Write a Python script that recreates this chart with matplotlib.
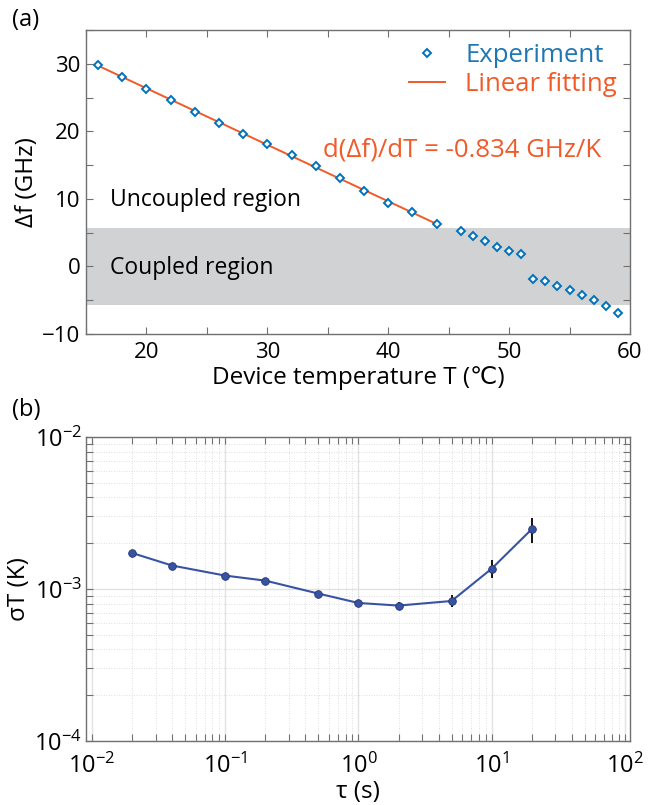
import numpy as np
import matplotlib
matplotlib.use("Agg")
import matplotlib.pyplot as plt
from matplotlib.ticker import MultipleLocator, LogLocator, NullFormatter

plt.rcParams['font.family'] = ['Open Sans', 'DejaVu Sans']
plt.rcParams['mathtext.default'] = 'regular'

# ---- Panel (a) data ----
temp_fit = [16, 18, 20, 22, 24, 26, 28, 30, 32, 34, 36, 38, 40, 42, 44]
df_fit = [29.82, 28.09, 26.27, 24.60, 22.92, 21.29, 19.62, 18.09, 16.51,
          14.88, 13.11, 11.18, 9.45, 8.03, 6.26]
temp_rest = [46, 47, 48, 49, 50, 51, 52, 53, 54, 55, 56, 57, 58, 59]
df_rest = [5.31, 4.48, 3.79, 2.86, 2.31, 1.86, -1.83, -2.09, -2.83, -3.46,
           -4.25, -5.04, -5.87, -6.82]
band_lo, band_hi = -5.7, 5.7

# ---- Panel (b) data ----
tau = [0.02, 0.04, 0.1, 0.2, 0.5, 1, 2, 5, 10, 20]
sigma_T = [1.725e-3, 1.426e-3, 1.225e-3, 1.135e-3, 0.933e-3, 0.809e-3,
           0.778e-3, 0.834e-3, 1.362e-3, 2.48e-3]
sigma_err = [0.02e-3, 0.02e-3, 0.02e-3, 0.025e-3, 0.025e-3, 0.03e-3,
             0.04e-3, 0.078e-3, 0.18e-3, 0.47e-3]

c_exp = '#0072BD'
c_fit = '#F15A29'
c_b = '#3953A4'
spine_c = '#707070'

fig = plt.figure(figsize=(6.62, 8.05), dpi=100)
W, H = 662, 805
def rect(l, t, r, b):
    return [l / W, 1 - b / H, (r - l) / W, (b - t) / H]

TICK = 16
LAB = 17.5

# ---------------- (a) ----------------
ax = fig.add_axes(rect(86, 30, 630, 334))
ax.axhspan(band_lo, band_hi, color='#D1D2D4', lw=0, zorder=0)
T_all = np.array(temp_fit + temp_rest)
D_all = np.array(df_fit + df_rest)
ax.plot(T_all, D_all, linestyle='none', marker='D', markersize=4.5,
        markerfacecolor='white', markeredgecolor=c_exp, markeredgewidth=1.4,
        label='Experiment', zorder=3)
p = np.polyfit(temp_fit, df_fit, 1)
xf = np.array([temp_fit[0], temp_fit[-1]])
ax.plot(xf, np.polyval(p, xf), color=c_fit, lw=1.4, label='Linear fitting', zorder=2)
ax.set_xlim(15, 60)
ax.set_ylim(-10, 35)
ax.xaxis.set_major_locator(MultipleLocator(10))
ax.xaxis.set_minor_locator(MultipleLocator(5))
ax.yaxis.set_major_locator(MultipleLocator(10))
ax.yaxis.set_minor_locator(MultipleLocator(5))
ax.tick_params(which='both', direction='in', top=True, right=True,
               length=5, width=0.8, color=spine_c, labelsize=TICK, pad=4)
ax.tick_params(axis='x', pad=6)
for s in ax.spines.values():
    s.set_color(spine_c)
    s.set_linewidth(1.0)
ax.set_xlabel('Device temperature T (℃)', fontsize=LAB, labelpad=2)
ax.set_ylabel('Δf (GHz)', fontsize=LAB, labelpad=2)
leg = ax.legend(loc='upper right', frameon=False, fontsize=18.5, numpoints=1,
                handlelength=1.4, handletextpad=0.8, labelspacing=0.15,
                borderaxespad=0.1, labelcolor='linecolor')
ax.text(34.6, 17.25, 'd(Δf)/dT = -0.834 GHz/K', color=c_fit, fontsize=18.5,
        ha='left', va='center')
ax.text(17, 9.85, 'Uncoupled region', fontsize=16.5, ha='left', va='center')
ax.text(17, -0.2, 'Coupled region', fontsize=16.5, ha='left', va='center')
fig.text(12 / W, 1 - 20 / H, '(a)', fontsize=17, ha='left', va='center')

# ---------------- (b) ----------------
bx = fig.add_axes(rect(86, 437, 630, 741))
bx.set_xscale('log')
bx.set_yscale('log')
bx.errorbar(tau, sigma_T, yerr=sigma_err, color=c_b, lw=1.5, marker='o',
            markersize=5.5, markerfacecolor=c_b, markeredgecolor='#23336e',
            markeredgewidth=0.6, ecolor='black', elinewidth=1.3, capsize=0,
            zorder=3)
bx.set_xlim(10 ** -2.045, 10 ** 2.0375)
bx.set_ylim(1e-4, 1e-2)
bx.xaxis.set_major_locator(LogLocator(base=10, numticks=10))
bx.xaxis.set_minor_locator(LogLocator(base=10, subs=np.arange(2, 10), numticks=20))
bx.yaxis.set_major_locator(LogLocator(base=10, numticks=10))
bx.yaxis.set_minor_locator(LogLocator(base=10, subs=np.arange(2, 10), numticks=20))
bx.xaxis.set_minor_formatter(NullFormatter())
bx.yaxis.set_minor_formatter(NullFormatter())
bx.grid(which='major', color='#E2E2E2', lw=1.0, ls='-')
bx.grid(which='minor', color='#D5D5D5', lw=0.6, ls=(0, (1, 2)))
bx.set_axisbelow(True)
bx.tick_params(which='both', direction='in', top=True, right=True,
               length=5, width=0.8, color=spine_c, labelsize=TICK + 1, pad=3)
bx.tick_params(axis='x', pad=9)
for s in bx.spines.values():
    s.set_color(spine_c)
    s.set_linewidth(1.0)
bx.set_xlabel('τ (s)', fontsize=LAB, labelpad=1)
bx.set_ylabel('σT (K)', fontsize=LAB, labelpad=2)
fig.text(12 / W, 1 - 410 / H, '(b)', fontsize=17, ha='left', va='center')

fig.savefig('out.png', dpi=100)
